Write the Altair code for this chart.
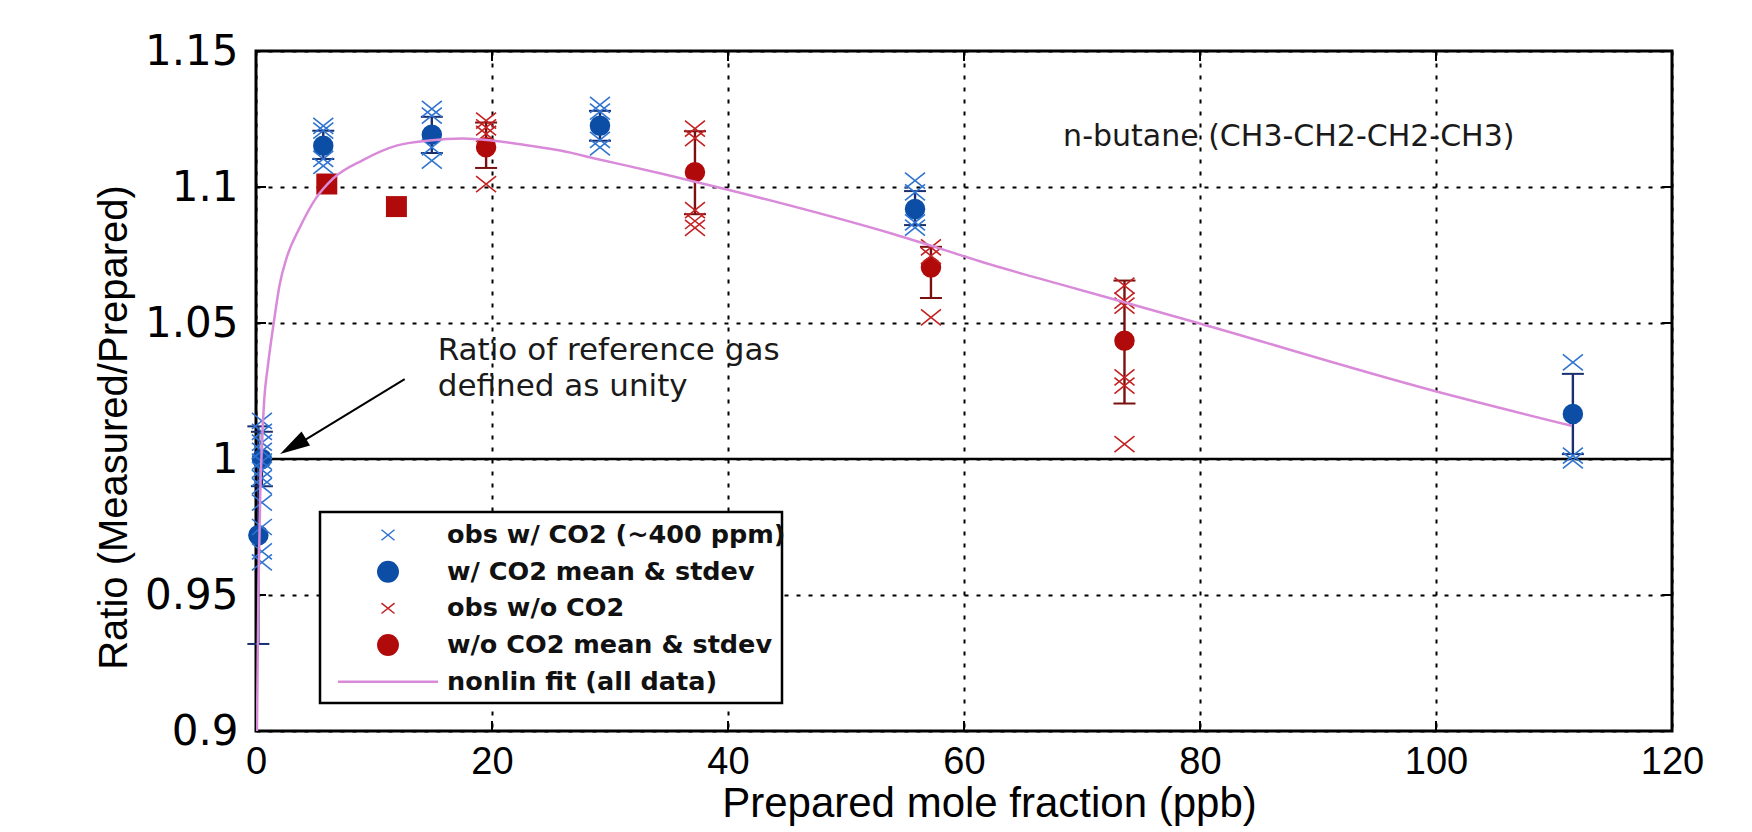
import altair as alt
import pandas as pd

# ---------------- data ----------------
x_ticks = [0, 20, 40, 60, 80, 100, 120]
y_ticks = [0.9, 0.95, 1.0, 1.05, 1.1, 1.15]

blue_obs_x = [0.5, 0.5, 0.5, 0.5, 0.5, 0.5, 0.5, 0.5, 0.5, 0.5, 0.5, 0.5,
              5.7, 5.7, 5.7, 5.7,
              14.9, 14.9, 14.9, 14.9,
              29.15, 29.15, 29.15, 29.15,
              55.85, 55.85, 55.85, 55.85,
              111.6, 111.6, 111.6]
blue_obs_y = [1.014, 1.010, 1.006, 1.003, 0.999, 0.996, 0.993, 0.990, 0.984, 0.975, 0.966, 0.962,
              1.1225, 1.1207, 1.1103, 1.1078,
              1.1287, 1.1262, 1.1146, 1.1097,
              1.1302, 1.1277, 1.1173, 1.1146,
              1.1023, 1.0980, 1.0870, 1.0851,
              1.0355, 1.0012, 0.9995]

blue_mean_x = [0.2, 0.5, 5.7, 14.9, 29.15, 55.85, 111.6]
blue_mean_y = [0.972, 1.000, 1.1152, 1.1192, 1.1225, 1.0919, 1.0165]
blue_sd_lo = [0.932, 0.990, 1.1103, 1.1125, 1.1170, 1.0860, 1.0018]
blue_sd_hi = [1.012, 1.010, 1.1207, 1.1258, 1.1280, 1.0985, 1.0313]

red_obs_x = [19.5, 19.5, 19.5, 19.5,
             37.2, 37.2, 37.2, 37.2, 37.2,
             57.2, 57.2, 57.2,
             73.6, 73.6, 73.6, 73.6, 73.6, 73.6]
red_obs_y = [1.1244, 1.1219, 1.1195, 1.1011,
             1.1215, 1.1180, 1.0915, 1.0875, 1.0850,
             1.0778, 1.0747, 1.0521,
             1.0637, 1.0582, 1.0564, 1.0300, 1.0270, 1.0055]

red_mean_x = [19.5, 37.2, 57.2, 73.6]
red_mean_y = [1.1146, 1.1054, 1.0704, 1.0435]
red_sd_lo = [1.1070, 1.0900, 1.0592, 1.0204]
red_sd_hi = [1.1237, 1.1205, 1.0780, 1.0656]

red_sq_x = [6.0, 11.9]
red_sq_y = [1.1011, 1.0928]

fit_x = [0.08, 0.2, 0.35, 0.5, 0.7, 1.0, 1.5, 2.0, 2.6, 3.7, 5.1, 6.5, 9.1, 11.9,
         14.7, 17.5, 19.8, 23.2, 25.8, 28.9, 34.5, 40.0, 54.0, 63.1, 68.1, 79.9, 99.8, 111.5]
fit_y = [0.900, 0.950, 0.985, 1.005, 1.022, 1.034, 1.050, 1.064, 1.074, 1.085, 1.096, 1.1030,
         1.1100, 1.1152, 1.1171, 1.1178, 1.1172, 1.1152, 1.1134, 1.1103, 1.1048, 1.0990,
         1.0827, 1.0704, 1.0643, 1.0499, 1.0251, 1.0122]

leg_labels = ["obs w/ CO2 (~400 ppm)", "w/ CO2 mean & stdev", "obs w/o CO2",
              "w/o CO2 mean & stdev", "nonlin fit (all data)"]

# ---------------- styling ----------------
PLOT_W, PLOT_H = 1416, 680
XMIN, XMAX, YMIN, YMAX = 0, 120, 0.9, 1.15
PX_X = PLOT_W / (XMAX - XMIN)
PX_Y = PLOT_H / (YMAX - YMIN)
TICK = 10

C_BLUE_OBS = "#2f74d0"
C_BLUE_MEAN = "#0c4da6"
C_BLUE_ERR = "#1a2f6e"
C_RED_OBS = "#c42222"
C_RED_MEAN = "#b00a0a"
C_RED_ERR = "#7a1010"
C_FIT = "#d98bd9"

XPATH = "M-1,-0.8L1,0.8M-1,0.8L1,-0.8"

xs = alt.Scale(domain=[XMIN, XMAX], nice=False, zero=False)
ys = alt.Scale(domain=[YMIN, YMAX], nice=False, zero=False)

x_axis = alt.Axis(values=x_ticks, format="d", title="Prepared mole fraction (ppb)",
                  labelFont="Liberation Sans Narrow, Liberation Sans", labelFontSize=38,
                  labelPadding=12, labelColor="black", labelFlush=False,
                  titleFont="Liberation Sans", titleFontSize=42, titleFontWeight="normal",
                  titleColor="black", titleX=733, titleY=85, titleBaseline="alphabetic")
y_axis = alt.Axis(values=y_ticks, format="~g", title="Ratio (Measured/Prepared)",
                  labelFont="DejaVu Sans", labelFontSize=42,
                  labelPadding=18, labelColor="black", labelFlush=False,
                  titleFont="Liberation Sans", titleFontSize=40, titleFontWeight="normal",
                  titleColor="black", titleX=-122, titleY=376, titleBaseline="bottom")


def X(field):
    return alt.X(field, type="quantitative", scale=xs, axis=x_axis)


def Y(field):
    return alt.Y(field, type="quantitative", scale=ys, axis=y_axis)


def XD(v):
    return alt.X(datum=v, type="quantitative", scale=xs, axis=x_axis)


def YD(v):
    return alt.Y(datum=v, type="quantitative", scale=ys, axis=y_axis)


blue_obs = pd.DataFrame({"x": blue_obs_x, "y": blue_obs_y})
blue_mean = pd.DataFrame({"x": blue_mean_x, "y": blue_mean_y, "lo": blue_sd_lo, "hi": blue_sd_hi})
red_obs = pd.DataFrame({"x": red_obs_x, "y": red_obs_y})
red_mean = pd.DataFrame({"x": red_mean_x, "y": red_mean_y, "lo": red_sd_lo, "hi": red_sd_hi})
red_sq = pd.DataFrame({"x": red_sq_x, "y": red_sq_y})
fit = pd.DataFrame({"x": fit_x, "y": fit_y})
one = pd.DataFrame({"k": [0]})
xt = pd.DataFrame({"x": x_ticks})
yt = pd.DataFrame({"y": y_ticks})

layers = []

# unity line
layers.append(alt.Chart(one).mark_rule(color="black", strokeWidth=2.5).encode(y=YD(1.0)))

# inward ticks
layers.append(alt.Chart(xt).mark_rule(color="black", strokeWidth=2).encode(
    x=X("x"), y=YD(YMIN), y2=alt.Y2(datum=YMIN + TICK / PX_Y)))
layers.append(alt.Chart(xt).mark_rule(color="black", strokeWidth=2).encode(
    x=X("x"), y=YD(YMAX), y2=alt.Y2(datum=YMAX - TICK / PX_Y)))
layers.append(alt.Chart(yt).mark_rule(color="black", strokeWidth=2).encode(
    y=Y("y"), x=XD(XMIN), x2=alt.X2(datum=XMIN + TICK / PX_X)))
layers.append(alt.Chart(yt).mark_rule(color="black", strokeWidth=2).encode(
    y=Y("y"), x=XD(XMAX), x2=alt.X2(datum=XMAX - TICK / PX_X)))

# error bars
for df, col in [(blue_mean, C_BLUE_ERR), (red_mean, C_RED_ERR)]:
    layers.append(alt.Chart(df).mark_rule(color=col, strokeWidth=2.4).encode(
        x=X("x"), y=Y("lo"), y2="hi"))
    for f in ["lo", "hi"]:
        layers.append(alt.Chart(df).mark_tick(color=col, orient="horizontal", size=22,
                                              thickness=2, opacity=1).encode(
            x=X("x"), y=Y(f)))

# means
layers.append(alt.Chart(blue_mean).mark_point(shape="circle", filled=True, size=420, opacity=1,
                                              color=C_BLUE_MEAN).encode(x=X("x"), y=Y("y")))
layers.append(alt.Chart(red_mean).mark_point(shape="circle", filled=True, size=420, opacity=1,
                                             color=C_RED_MEAN).encode(x=X("x"), y=Y("y")))
layers.append(alt.Chart(red_sq).mark_point(shape="square", filled=True, size=440, opacity=1,
                                           color=C_RED_MEAN).encode(x=X("x"), y=Y("y")))

# observations
layers.append(alt.Chart(blue_obs).mark_point(shape=XPATH, filled=False, size=400, opacity=1,
                                             strokeWidth=1.6, color=C_BLUE_OBS).encode(
    x=X("x"), y=Y("y")))
layers.append(alt.Chart(red_obs).mark_point(shape=XPATH, filled=False, size=400, opacity=1,
                                            strokeWidth=1.6, color=C_RED_OBS).encode(
    x=X("x"), y=Y("y")))

# fit
layers.append(alt.Chart(fit).mark_line(color=C_FIT, strokeWidth=2.5, interpolate="monotone",
                                       clip=True).encode(x=X("x"), y=Y("y")))

# annotations
layers.append(alt.Chart(one).mark_text(text="n-butane (CH3-CH2-CH2-CH3)", font="DejaVu Sans",
                                       fontSize=30, align="left", baseline="alphabetic",
                                       color="#1a1a1a").encode(x=XD(68.4), y=YD(1.1150)))
layers.append(alt.Chart(one).mark_text(text=["Ratio of reference gas", "defined as unity"],
                                       font="DejaVu Sans", fontSize=31, lineHeight=36,
                                       align="left", baseline="alphabetic",
                                       color="#1a1a1a").encode(x=XD(15.4), y=YD(1.0365)))
layers.append(alt.Chart(one).mark_rule(color="black", strokeWidth=2).encode(
    x=XD(12.6), y=YD(1.0294), x2=alt.X2(datum=3.4), y2=alt.Y2(datum=1.0050)))
layers.append(alt.Chart(one).mark_point(shape="M0,-1L0.55,1L-0.55,1Z", filled=True, size=900,
                                        angle=239, opacity=1, color="black").encode(
    x=XD(3.13), y=YD(1.0047)))

# legend (drawn in plot pixel coordinates)
layers.append(alt.Chart(one).mark_rect(fill="white", stroke="black", strokeWidth=2.5).encode(
    x=alt.value(64), x2=alt.value(526), y=alt.value(461), y2=alt.value(652)))
row_y = [484, 520.7, 557.3, 594, 630.7]
leg_sym = [
    dict(shape=XPATH, filled=False, size=170, strokeWidth=1.5, color=C_BLUE_OBS),
    dict(shape="circle", filled=True, size=480, color=C_BLUE_MEAN),
    dict(shape=XPATH, filled=False, size=170, strokeWidth=1.5, color=C_RED_OBS),
    dict(shape="circle", filled=True, size=480, color=C_RED_MEAN),
]
for i, lab in enumerate(leg_labels):
    if i < 4:
        layers.append(alt.Chart(one).mark_point(opacity=1, **leg_sym[i]).encode(
            x=alt.value(132), y=alt.value(row_y[i])))
    else:
        layers.append(alt.Chart(one).mark_rule(color=C_FIT, strokeWidth=2.5).encode(
            x=alt.value(82), x2=alt.value(182), y=alt.value(row_y[i])))
    layers.append(alt.Chart(one).mark_text(text=lab, font="DejaVu Sans", fontWeight="bold",
                                           fontSize=25.5, align="left", baseline="middle",
                                           color="#111111").encode(
        x=alt.value(191), y=alt.value(row_y[i])))

chart = alt.layer(*layers).properties(
    width=PLOT_W, height=PLOT_H,
    autosize=alt.AutoSizeParams(type="none"),
    padding={"left": 248, "top": 43, "right": 70, "bottom": 97},
    background="white",
).configure_view(stroke="black", strokeWidth=3).configure_axis(
    grid=True, gridColor="black", gridDash=[4, 8], gridWidth=2, gridOpacity=1,
    domain=False, ticks=False,
)

chart.save("out.html", embed_options={"renderer": "svg", "actions": False})
